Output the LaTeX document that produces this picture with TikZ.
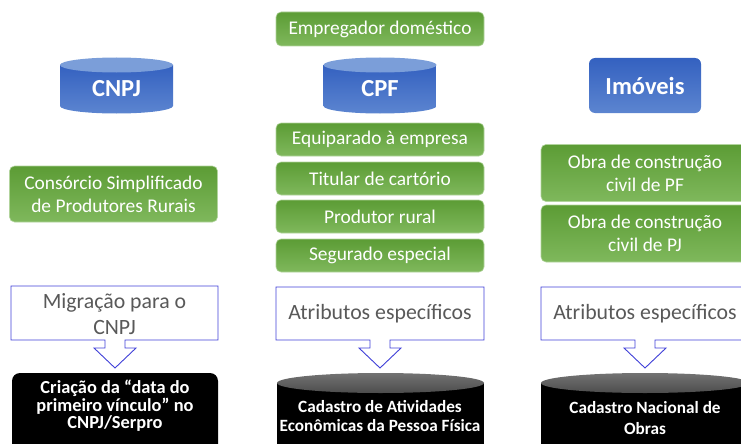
\documentclass[tikz,border=0pt]{standalone}
\usepackage{fontspec}
\setmainfont{Carlito}
\usetikzlibrary{shapes.geometric}
\definecolor{gtop}{HTML}{5C9C35}
\definecolor{gbot}{HTML}{7FB85C}
\definecolor{btop}{HTML}{3461C0}
\definecolor{bbot}{HTML}{5C85D0}
\definecolor{bendc}{HTML}{7B9ED9}
\definecolor{cline}{HTML}{4040D8}
\definecolor{ctext}{HTML}{595959}
\tikzset{
  gbox/.style={rounded corners=5pt, top color=gtop, bottom color=gbot, draw=gbot!60!white, line width=0.6pt,
    text=white, align=center, font=\fontsize{19.4}{23}\selectfont, minimum width=208pt, inner sep=0pt},
  blabel/.style={text=white, font=\bfseries\fontsize{24.5}{28}\selectfont, inner sep=0pt},
  klabel/.style={text=white, align=center, font=\bfseries\fontsize{17.2}{18.5}\selectfont, inner sep=0pt},
  ctxt/.style={text=ctext, align=center, font=\fontsize{21.8}{26}\selectfont, inner sep=0pt},
  callout/.style={draw=cline, fill=white, line width=0.9pt, line join=miter},
}
\begin{document}
\begin{tikzpicture}[x=1pt,y=-1pt]
\useasboundingbox (0,0) rectangle (741,444);
\clip (0,0) rectangle (741,444);

% ---- blue cylinders
\foreach \cx/\name in {116.5/CNPJ,380/CPF}{
  \shade[top color=btop, bottom color=bbot]
    (\cx-56.5,65) -- (\cx-56.5,106) arc[start angle=180,end angle=360,x radius=56.5pt,y radius=7.5pt]
    -- (\cx+56.5,65) -- cycle;
  \fill[bendc] (\cx,65) ellipse[x radius=56.5pt, y radius=7.5pt];
}
\node[blabel] (cnpj) at (116.5,89) {CNPJ};
\node[blabel] (cpf) at (380,89) {CPF};

% ---- Imoveis
\node[rounded corners=6pt, top color=btop, bottom color=bbot, minimum width=112pt, minimum height=55pt, inner sep=0pt] (imovbox) at (645,85.5) {};
\node[blabel] (imov) at (645,86) {Imóveis};

% ---- green boxes
\node[gbox, minimum height=56pt] (consorcio) at (113.5,194) {Consórcio Simplificado\\de Produtores Rurais};
\node[gbox, minimum height=34pt] (empregador) at (380,29) {Empregador doméstico};
\node[gbox, minimum height=33pt] (equiparado) at (380,139.5) {Equiparado à empresa};
\node[gbox, minimum height=33pt] (titular) at (380,178.5) {Titular de cartório};
\node[gbox, minimum height=33pt] (produtor) at (380,216.5) {Produtor rural};
\node[gbox, minimum height=33pt] (segurado) at (380,255.5) {Segurado especial};
\node[gbox, minimum height=57pt] (obrapf) at (645,173) {Obra de construção\\civil de PF};
\node[gbox, minimum height=57pt] (obrapj) at (645,233.5) {Obra de construção\\civil de PJ};

% ---- callouts
\draw[callout] (11,286) -- (218,286) -- (218,340) -- (125,340) -- (125,348) -- (136,348) -- (115,368)
  -- (94,348) -- (105,348) -- (105,340) -- (11,340) -- cycle;
\draw[callout] (276,287) -- (484,287) -- (484,340) -- (390,340) -- (390,348) -- (401,348) -- (380,368)
  -- (359,348) -- (370,348) -- (370,340) -- (276,340) -- cycle;
\draw[callout] (541,287) -- (749,287) -- (749,340) -- (655,340) -- (655,348) -- (666,348) -- (645,368)
  -- (624,348) -- (635,348) -- (635,340) -- (541,340) -- cycle;
\node[ctxt] (migracao) at (114.5,314) {Migração para o\\CNPJ};
\node[ctxt] (atrib1) at (380,314) {Atributos específicos};
\node[ctxt] (atrib2) at (645,314) {Atributos específicos};

% ---- black targets
\fill[black, rounded corners=8pt] (12,373) rectangle (218,480);
\node[klabel, font=\bfseries\fontsize{18.4}{17.6}\selectfont] (criacao) at (115,406) {Criação da “data do\\primeiro vínculo” no\\CNPJ/Serpro};

\foreach \xa/\xb in {277/484,541/749}{
  \fill[black] (\xa,383) rectangle (\xb,480);
  \shade[top color=black!55, bottom color=black!70] ({(\xa+\xb)/2},383) ellipse[x radius={(\xb-\xa)/2*1pt}, y radius=10pt];
}
\node[klabel] (caepf) at (380,416) {Cadastro de Atividades\\Econômicas da Pessoa Física};
\node[klabel, font=\bfseries\fontsize{17.2}{21}\selectfont] (cno) at (645,418) {Cadastro Nacional de\\Obras};
\end{tikzpicture}
\end{document}
